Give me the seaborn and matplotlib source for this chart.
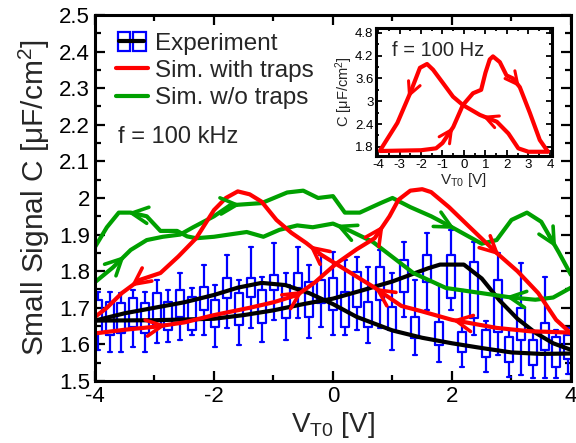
import numpy as np
import pandas as pd
import matplotlib
matplotlib.use("Agg")
import matplotlib.pyplot as plt
import seaborn as sns
from matplotlib.lines import Line2D
from matplotlib.patches import Rectangle
from matplotlib.legend_handler import HandlerBase
from matplotlib.ticker import MultipleLocator, FuncFormatter

# ---------------- measured capacitance, f = 100 kHz (box statistics) ----------------
box_v = [-3.95, -3.75, -3.56, -3.36, -3.16, -2.96, -2.77, -2.57, -2.37, -2.17,
         -1.98, -1.78, -1.58, -1.38, -1.19, -0.99, -0.79, -0.59, -0.40, -0.20,
         0.00, 0.20, 0.40, 0.59, 0.79, 0.99, 1.19, 1.38, 1.58, 1.78,
         1.98, 2.17, 2.37, 2.57, 2.77, 2.96, 3.16, 3.36, 3.56, 3.75, 3.95]
box_hi = [1.744, 1.744, 1.740, 1.749, 1.744, 1.776, 1.749, 1.794, 1.753, 1.817,
          1.762, 1.844, 1.776, 1.867, 1.785, 1.878, 1.794, 1.867, 1.817, 1.844,
          1.853, 1.831, 1.840, 1.812, 1.858, 1.794, 1.881, 1.776, 1.904, 1.762,
          1.913, 1.749, 1.881, 1.665, 1.849, 1.640, 1.822, 1.635, 1.785, 1.640, 1.645]
box_q3 = [1.721, 1.717, 1.712, 1.726, 1.712, 1.740, 1.717, 1.749, 1.730, 1.758,
          1.721, 1.781, 1.740, 1.781, 1.749, 1.790, 1.762, 1.794, 1.771, 1.776,
          1.781, 1.744, 1.799, 1.717, 1.812, 1.703, 1.831, 1.676, 1.844, 1.662,
          1.844, 1.635, 1.826, 1.639, 1.776, 1.621, 1.699, 1.612, 1.658, 1.621, 1.625]
box_q1 = [1.630, 1.626, 1.630, 1.648, 1.630, 1.653, 1.639, 1.676, 1.639, 1.694,
          1.648, 1.726, 1.653, 1.730, 1.658, 1.749, 1.671, 1.753, 1.676, 1.712,
          1.694, 1.648, 1.703, 1.648, 1.721, 1.639, 1.744, 1.617, 1.771, 1.598,
          1.726, 1.580, 1.671, 1.566, 1.635, 1.553, 1.612, 1.544, 1.585, 1.539, 1.560]
box_lo = [1.585, 1.580, 1.580, 1.594, 1.580, 1.603, 1.607, 1.612, 1.626, 1.626,
          1.594, 1.644, 1.598, 1.644, 1.607, 1.667, 1.612, 1.671, 1.617, 1.648,
          1.626, 1.626, 1.639, 1.603, 1.644, 1.585, 1.676, 1.571, 1.694, 1.553,
          1.694, 1.539, 1.626, 1.525, 1.571, 1.512, 1.516, 1.508, 1.508, 1.508, 1.520]

# mean of the measurement, forward and backward sweep
exp_fwd_v = [-4, -3, -2, -1.5, -1.0, -0.5, 0, 0.5, 1.0, 1.3, 1.6, 1.8, 2.2, 2.5, 2.8, 3.1, 3.4, 3.7, 4]
exp_fwd_c = [1.665, 1.666, 1.670, 1.680, 1.693, 1.710, 1.725, 1.748, 1.772, 1.790, 1.808, 1.818,
             1.818, 1.780, 1.720, 1.670, 1.632, 1.603, 1.585]
exp_bwd_v = [4, 3.5, 3.0, 2.5, 2.0, 1.5, 1.0, 0.4, 0.0, -0.4, -0.8, -1.2, -1.6, -2.0, -2.5, -3.0, -3.5, -4]
exp_bwd_c = [1.575, 1.574, 1.578, 1.590, 1.603, 1.618, 1.638, 1.675, 1.710, 1.740, 1.762, 1.768,
             1.755, 1.735, 1.715, 1.700, 1.685, 1.665]

# simulation with traps
trap_fwd_v = [-4, -3.5, -3.0, -2.5, -2.0, -1.4, -1.0, -0.6, -0.3, 0.05, 0.4, 0.7, 0.95, 1.1, 1.3,
              1.5, 1.65, 1.95, 2.3, 2.75, 3.1, 3.45, 3.75, 4]
trap_fwd_c = [1.630, 1.640, 1.648, 1.660, 1.680, 1.700, 1.715, 1.735, 1.770, 1.820, 1.860, 1.890,
              1.950, 1.995, 2.020, 2.024, 2.016, 1.975, 1.920, 1.850, 1.800, 1.740, 1.667, 1.630]
trap_bwd_v = [4, 3.3, 2.75, 2.0, 1.5, 1.15, 0.7, 0.4, 0.1, -0.2, -0.45, -0.7, -0.95, -1.2, -1.4,
              -1.6, -1.8, -2.0, -2.3, -2.6, -2.9, -3.25, -3.55, -3.8, -4]
trap_bwd_c = [1.632, 1.636, 1.645, 1.667, 1.690, 1.705, 1.755, 1.785, 1.815, 1.845, 1.877, 1.905,
              1.940, 1.990, 2.010, 2.018, 2.000, 1.967, 1.890, 1.840, 1.795, 1.776, 1.740, 1.700, 1.675]

# simulation without traps
notrap_fwd_v = [-4, -3.7, -3.4, -3.13, -2.86, -2.57, -2.35, -2.0, -1.73, -1.2, -0.77, -0.5, -0.25,
                0.0, 0.2, 0.45, 0.8, 1.0, 1.3, 1.65, 2.0, 2.5, 2.75, 3.0, 3.26, 3.5, 3.8, 4]
notrap_fwd_c = [1.770, 1.810, 1.858, 1.885, 1.894, 1.900, 1.920, 1.950, 1.980, 1.986, 2.015, 2.020,
                2.000, 2.005, 1.960, 1.960, 1.986, 2.000, 1.975, 1.950, 1.920, 1.875, 1.885, 1.940,
                1.960, 1.935, 1.850, 1.790]
notrap_bwd_v = [4, 3.7, 3.4, 3.0, 2.5, 1.9, 1.35, 1.07, 0.67, 0.29, 0.0, -0.34, -0.6, -0.9, -1.17,
                -1.45, -1.75, -2.0, -2.3, -2.45, -2.62, -2.9, -3.13, -3.4, -3.6, -3.8, -4]
notrap_bwd_c = [1.755, 1.728, 1.722, 1.728, 1.740, 1.754, 1.795, 1.830, 1.880, 1.910, 1.930, 1.920,
                1.925, 1.913, 1.894, 1.907, 1.900, 1.894, 1.890, 1.895, 1.910, 1.910, 1.950, 1.960,
                1.960, 1.920, 1.866]

# inset: simulation with traps at f = 100 Hz
lf_fwd_v = [-3.9, -3.0, -2.0, -1.3, -1.0, -0.5, -0.05, 0.42, 0.8, 1.0, 1.2, 1.35, 1.67, 1.98,
            2.28, 2.6, 3.07, 3.53, 3.9]
lf_fwd_c = [1.69, 1.70, 1.71, 1.76, 1.90, 2.32, 2.90, 3.21, 3.30, 3.75, 4.10, 4.18, 4.03, 3.68,
            3.60, 3.37, 2.69, 1.98, 1.68]
lf_bwd_v = [3.9, 3.0, 2.53, 2.07, 1.53, 0.74, -0.05, -0.51, -0.98, -1.44, -1.72, -2.05, -2.5, -3.1, -3.9]
lf_bwd_c = [1.67, 1.67, 1.76, 2.15, 2.46, 2.64, 2.90, 3.12, 3.48, 3.83, 3.98, 3.88, 3.22, 2.43, 1.71]

# sweep-direction arrow positions (V)
trap_fwd_arrows = [-2.8, -0.5, 0.85, 2.8]
trap_bwd_arrows = [2.0, 0.7, -0.4, -3.4]
notrap_fwd_arrows = [-3.5, -1.55, 2.05, 3.75]
notrap_bwd_arrows = [-3.45, 0.05, 2.9]
lf_fwd_arrows = [-0.5, 2.6]
lf_bwd_arrows = [-2.6, 0.85]

BLUE, RED, GREEN, BLACK = "#0000ff", "#ff0000", "#00a000", "#000000"

sns.set_style("ticks")
plt.rcParams["font.family"] = ["Liberation Sans", "DejaVu Sans"]
plt.rcParams["mathtext.fontset"] = "custom"
plt.rcParams["mathtext.rm"] = "Liberation Sans"
plt.rcParams["mathtext.it"] = "Liberation Sans:italic"
plt.rcParams["mathtext.bf"] = "Liberation Sans:bold"
plt.rcParams["axes.unicode_minus"] = False


def add_arrows(ax, v, c, where, color, lw=2.6, dv=0.12, scale=13):
    v = np.asarray(v, float)
    c = np.asarray(c, float)
    s = 1.0 if v[-1] > v[0] else -1.0
    order = np.argsort(v)
    vs, cs = v[order], c[order]
    for w in where:
        tip = (w, np.interp(w, vs, cs))
        t = w - s * dv
        tail = (t, np.interp(t, vs, cs))
        ax.annotate("", xy=tip, xytext=tail,
                    arrowprops=dict(arrowstyle="->,head_length=0.9,head_width=0.45",
                                    color=color, lw=lw, shrinkA=0, shrinkB=0,
                                    mutation_scale=scale))


class BoxPairHandler(HandlerBase):
    """Legend key: two open boxes side by side with the mean line through them."""

    def create_artists(self, legend, orig_handle, xdescent, ydescent, width, height,
                       fontsize, trans):
        x0, y0 = -xdescent, -ydescent
        yc = y0 + height / 2
        bh = 0.78 * fontsize
        bw = 0.40 * width
        boxes = [Rectangle((x0 + f * width, yc - bh / 2), bw, bh, fill=False,
                           edgecolor=BLUE, lw=1.6, transform=trans)
                 for f in (0.06, 0.54)]
        line = Line2D([x0 + 0.1 * width, x0 + 0.9 * width], [yc, yc], color=BLACK, lw=3,
                      transform=trans)
        return boxes + [line]


fig = plt.figure(figsize=(5.76, 4.43), dpi=100)
ax = fig.add_axes([0.1649, 0.1400, 0.8264, 0.8262])

# boxes: five-number samples per bias point
rows = []
for v, lo, q1, q3, hi in zip(box_v, box_lo, box_q1, box_q3, box_hi):
    for val in (lo, q1, 0.5 * (q1 + q3), q3, hi):
        rows.append((v, val))
box_df = pd.DataFrame(rows, columns=["V", "C"])
sns.boxplot(data=box_df, x="V", y="C", native_scale=True, whis=(0, 100), fill=False,
            color=BLUE, saturation=1, linewidth=1.6, width=0.7, showfliers=False,
            medianprops={"visible": False}, ax=ax)

for vv, cc, col in [(exp_fwd_v, exp_fwd_c, BLACK), (exp_bwd_v, exp_bwd_c, BLACK),
                    (notrap_fwd_v, notrap_fwd_c, GREEN), (notrap_bwd_v, notrap_bwd_c, GREEN),
                    (trap_fwd_v, trap_fwd_c, RED), (trap_bwd_v, trap_bwd_c, RED)]:
    sns.lineplot(x=vv, y=cc, sort=False, estimator=None, color=col, linewidth=3,
                 ax=ax, legend=False)

add_arrows(ax, trap_fwd_v, trap_fwd_c, trap_fwd_arrows, RED)
add_arrows(ax, trap_bwd_v, trap_bwd_c, trap_bwd_arrows, RED)
add_arrows(ax, notrap_fwd_v, notrap_fwd_c, notrap_fwd_arrows, GREEN)
add_arrows(ax, notrap_bwd_v, notrap_bwd_c, notrap_bwd_arrows, GREEN)

ax.set_xlim(-4, 4)
ax.set_ylim(1.5, 2.5)
ax.xaxis.set_major_locator(MultipleLocator(2))
ax.xaxis.set_minor_locator(MultipleLocator(1))
ax.yaxis.set_major_locator(MultipleLocator(0.1))
ax.yaxis.set_minor_locator(MultipleLocator(0.05))
ax.yaxis.set_major_formatter(FuncFormatter(lambda y, p: f"{y:g}"))
ax.xaxis.set_major_formatter(FuncFormatter(lambda x, p: f"{x:g}"))
ax.tick_params(which="both", direction="in", top=True, right=True, width=1.6,
               labelsize=16, colors="black")
ax.tick_params(which="major", length=7)
ax.tick_params(which="minor", length=4)
for sp in ax.spines.values():
    sp.set_linewidth(2.2)
    sp.set_color("black")
ax.set_xlabel(r"V$_{\mathrm{T0}}$ [V]", fontsize=20, labelpad=2)
ax.set_ylabel(r"Small Signal C [μF/cm$^{2}$]", fontsize=21.5)
ax.yaxis.set_label_coords(-0.09, 0.5)

# legend
exp_handle = Line2D([], [], color=BLACK, lw=3)
handles = [exp_handle, Line2D([], [], color=RED, lw=3), Line2D([], [], color=GREEN, lw=3)]
labels = ["Experiment", "Sim. with traps", "Sim. w/o traps"]
ax.legend(handles, labels, loc="upper left", bbox_to_anchor=(0.044, 0.952), frameon=False,
          fontsize=17.5, handlelength=1.3, handletextpad=0.3, labelspacing=0.22,
          borderpad=0, borderaxespad=0,
          handler_map={exp_handle: BoxPairHandler()})
ax.text(0.048, 0.650, "f = 100 kHz", transform=ax.transAxes, fontsize=17,
        ha="left", va="baseline")

# inset: low-frequency loop
axin = fig.add_axes([0.653, 0.648, 0.305, 0.289])
axin.set_facecolor("white")
for vv, cc in [(lf_fwd_v, lf_fwd_c), (lf_bwd_v, lf_bwd_c)]:
    sns.lineplot(x=vv, y=cc, sort=False, estimator=None, color=RED, linewidth=3,
                 ax=axin, legend=False)
add_arrows(axin, lf_fwd_v, lf_fwd_c, lf_fwd_arrows, RED, lw=2.2, dv=0.12, scale=10)
add_arrows(axin, lf_bwd_v, lf_bwd_c, lf_bwd_arrows, RED, lw=2.2, dv=0.12, scale=10)
axin.set_xlim(-4.09, 4.09)
axin.set_ylim(1.56, 4.93)
axin.xaxis.set_major_locator(MultipleLocator(1))
axin.xaxis.set_minor_locator(MultipleLocator(0.5))
axin.yaxis.set_major_locator(MultipleLocator(0.6))
axin.yaxis.set_minor_locator(MultipleLocator(0.3))
axin.yaxis.set_major_formatter(FuncFormatter(lambda y, p: f"{y:g}"))
axin.xaxis.set_major_formatter(FuncFormatter(lambda x, p: f"{x:g}"))
axin.tick_params(which="both", direction="in", top=True, right=True, width=1.3,
                 labelsize=9.5, pad=2, colors="black")
axin.tick_params(which="major", length=4)
axin.tick_params(which="minor", length=2)
for sp in axin.spines.values():
    sp.set_linewidth(2.2)
    sp.set_color("black")
axin.set_xlabel(r"V$_{\mathrm{T0}}$ [V]", fontsize=11, labelpad=0)
axin.set_ylabel(r"C [μF/cm$^{2}$]", fontsize=10.5, labelpad=0)
axin.text(0.09, 0.82, "f = 100 Hz", transform=axin.transAxes, fontsize=14.5,
          ha="left", va="center")

fig.savefig("out.png", dpi=100)
